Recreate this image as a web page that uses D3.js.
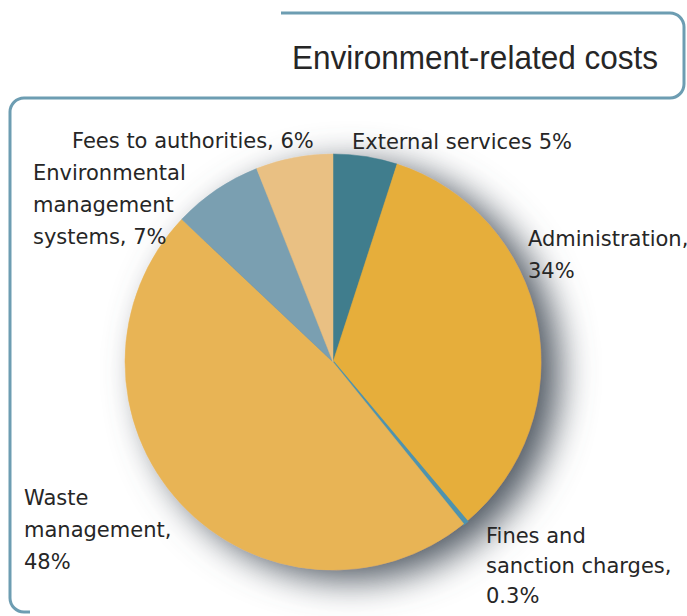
<!DOCTYPE html>
<html>
<head>
<meta charset="utf-8">
<script src="https://cdnjs.cloudflare.com/ajax/libs/d3/7.8.5/d3.min.js"></script>
<style>
  body { margin: 0; background: #fff; }
  text { font-family: "DejaVu Sans", "Liberation Sans", Arial, sans-serif; fill: #262626; }
</style>
</head>
<body>
<script>
(function(){

    //slice data, clockwise from 12 o'clock
    var categories = ["External services", "Administration", "Fines and sanction charges",
                      "Waste management", "Environmental management systems", "Fees to authorities"];
    var shares = [5, 34, 0.3, 48, 7, 6];
    var sliceColors = ["#3f7d8d", "#e6ae3a", "#4f93ae", "#e8b455", "#7a9fb1", "#e9c083"];

    //label text lines for each slice
    var labelLines = [
        ["External services 5%"],
        ["Administration,", "34%"],
        ["Fines and", "sanction charges,", "0.3%"],
        ["Waste", "management,", "48%"],
        ["Environmental", "management", "systems, 7%"],
        ["Fees to authorities, 6%"]
    ];
    var labelPos = [[352, 149], [528, 246], [486, 543], [24, 505], [33, 180], [72, 148]];

    var width = 687, height = 616;
    var cx = 333, cy = 362, radius = 208;
    var frameColor = "#6d9db2";

    var svg = d3.select("body").append("svg")
        .attr("width", width)
        .attr("height", height);

    //shadow filter for the pie
    var defs = svg.append("defs");
    var filter = defs.append("filter")
        .attr("id", "shadow")
        .attr("x", "-30%").attr("y", "-30%")
        .attr("width", "160%").attr("height", "160%");
    filter.append("feGaussianBlur").attr("in", "SourceAlpha").attr("stdDeviation", 18).attr("result", "blur");
    filter.append("feOffset").attr("in", "blur").attr("dx", 18).attr("dy", 10).attr("result", "off");
    filter.append("feComponentTransfer").attr("in", "off").attr("result", "shade")
        .append("feFuncA").attr("type", "linear").attr("slope", 1.1);
    filter.append("feFlood").attr("flood-color", "#5f6770").attr("result", "col");
    filter.append("feComposite").attr("in", "col").attr("in2", "shade").attr("operator", "in").attr("result", "sh");
    var merge = filter.append("feMerge");
    merge.append("feMergeNode").attr("in", "sh");
    merge.append("feMergeNode").attr("in", "SourceGraphic");

    //frame: title tab merged with main box
    var r = 14;
    var framePath = d3.path();
    framePath.moveTo(281, 13);
    framePath.lineTo(684 - r, 13);
    framePath.arcTo(684, 13, 684, 13 + r, r);
    framePath.lineTo(684, 98 - r);
    framePath.arcTo(684, 98, 684 - r, 98, r);
    framePath.lineTo(10 + r, 98);
    framePath.arcTo(10, 98, 10, 98 + r, r);
    framePath.lineTo(10, 612 - r);
    framePath.arcTo(10, 612, 10 + r, 612, r);
    framePath.lineTo(30, 612);

    svg.append("path")
        .attr("d", framePath.toString())
        .attr("fill", "none")
        .attr("stroke", frameColor)
        .attr("stroke-width", 3);

    svg.append("text")
        .attr("x", 292)
        .attr("y", 69)
        .style("font-family", "'Liberation Sans', Arial, sans-serif")
        .style("font-size", "33px")
        .attr("textLength", 366)
        .attr("lengthAdjust", "spacingAndGlyphs")
        .text("Environment-related costs");

    //pie
    var pie = d3.pie().sort(null).value(function(d){ return d; });
    var arc = d3.arc().innerRadius(0).outerRadius(radius);

    var g = svg.append("g")
        .attr("transform", "translate(" + cx + "," + cy + ")")
        .attr("filter", "url(#shadow)");

    g.selectAll(".slice")
        .data(pie(shares))
        .enter()
        .append("path")
        .attr("class", "slice")
        .attr("d", arc)
        .attr("fill", function(d, i){ return sliceColors[i]; })
        .attr("stroke", function(d, i){ return sliceColors[i]; })
        .attr("stroke-width", function(d, i){ return shares[i] < 1 ? 2.5 : 0.5; });

    //labels
    var labels = svg.selectAll(".label")
        .data(categories)
        .enter()
        .append("text")
        .attr("class", "label")
        .style("font-size", "21px")
        .attr("x", function(d, i){ return labelPos[i][0]; })
        .attr("y", function(d, i){ return labelPos[i][1]; });

    labels.each(function(d, i){
        var t = d3.select(this);
        labelLines[i].forEach(function(line, j){
            t.append("tspan")
                .attr("x", labelPos[i][0])
                .attr("dy", j === 0 ? 0 : (i === 2 ? 30 : 32))
                .text(line);
        });
    });

})();
</script>
</body>
</html>
